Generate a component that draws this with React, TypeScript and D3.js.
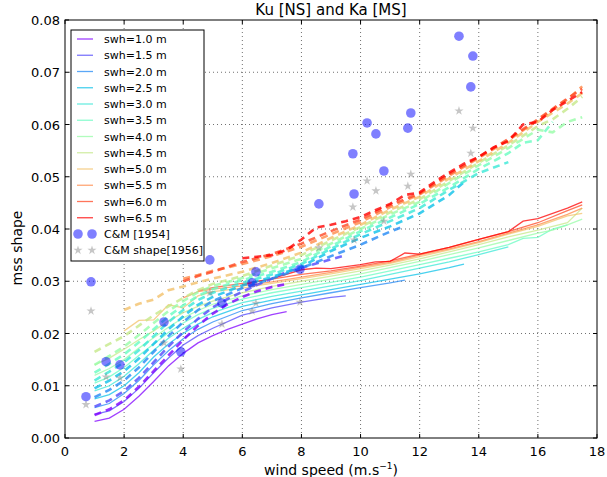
import React from 'react';
import * as d3 from 'd3';

// swh levels (m)
const swhLevels = [1.0, 1.5, 2.0, 2.5, 3.0, 3.5, 4.0, 4.5, 5.0, 5.5, 6.0, 6.5];

// solid curves: [wind, mss]
const s10 = [[1,.0032],[1.5,.0038],[2,.0055],[2.5,.0080],[3,.0108],[3.5,.0138],[4,.0162],[4.5,.0182],[5,.0196],[5.5,.0208],[6,.0218],[6.5,.0228],[7,.0236],[7.5,.0242]];
const s15 = [[1,.0045],[1.5,.0052],[2,.0070],[2.5,.0095],[3,.0125],[3.5,.0153],[4,.0178],[4.5,.0196],[5,.0210],[6,.0235],[7,.0249],[8,.0260],[9,.0269],[9.5,.0272]];
const s20 = [[1,.0058],[1.5,.0066],[2,.0085],[2.5,.0110],[3,.0140],[3.5,.0167],[4,.0190],[4.5,.0208],[5,.0222],[6,.0244],[7,.0257],[8,.0268],[9,.0278],[10,.0288],[11,.0297],[11.5,.0302]];
const s25 = [[1,.0075],[1.5,.0083],[2,.0100],[2.5,.0125],[3,.0155],[3.5,.0180],[4,.0200],[4.5,.0218],[5,.0232],[6,.0252],[7,.0264],[8,.0274],[9,.0284],[10,.0294],[11,.0304],[12,.0314],[13,.0326],[13.5,.0333]];
const s30 = [[1,.0090],[1.5,.0100],[2,.0118],[2.5,.0142],[3,.0168],[3.5,.0191],[4,.0210],[4.5,.0227],[5,.0240],[6,.0259],[7,.0271],[8,.0281],[9,.0291],[10,.0301],[11,.0313],[12,.0325],[13,.0337],[14,.0351],[15,.0366]];
const s35 = [[1,.0105],[1.5,.0117],[2,.0135],[2.5,.0158],[3,.0180],[3.5,.0202],[4,.0220],[4.5,.0236],[5,.0248],[6,.0266],[7,.0278],[8,.0288],[9,.0298],[10,.0308],[11,.0320],[12,.0332],[13,.0344],[14,.0356],[15,.0370],[15.5,.0382],[16,.0384],[16.5,.0400],[17,.0408]];
const s40 = [[1,.0120],[1.5,.0133],[2,.0150],[2.5,.0172],[3,.0192],[3.5,.0212],[4,.0230],[4.5,.0244],[5,.0256],[6,.0272],[7,.0284],[8,.0294],[9,.0304],[10,.0314],[11,.0326],[12,.0338],[13,.0351],[14,.0364],[15,.0378],[16,.0392],[16.5,.0398],[17,.0408],[17.5,.0419]];
const s45 = [[1,.0140],[1.5,.0153],[2,.0170],[2.5,.0188],[3,.0205],[3.5,.0224],[4,.0240],[4.5,.0252],[5,.0262],[6,.0278],[7,.0290],[8,.0300],[9,.0310],[10,.0320],[11,.0331],[12,.0343],[13,.0356],[14,.0370],[15,.0385],[16,.0398],[17,.0412],[17.5,.0440]];
const s50 = [[2,.0205],[2.5,.0225],[3,.0226],[3.5,.0255],[4,.0249],[4.5,.0272],[5,.0280],[6,.0287],[7,.0296],[8,.0305],[9,.0314],[10,.0324],[11,.0334],[12,.0347],[13,.0360],[14,.0374],[15,.0390],[16,.0405],[17,.0425],[17.5,.0430]];
const s55 = [[4,.0268],[4.5,.0280],[5,.0285],[6,.0291],[7,.0299],[8,.0308],[9,.0317],[10,.0327],[11,.0336],[12,.0350],[13,.0362],[14,.0376],[15,.0392],[16,.0408],[17,.0428],[17.5,.0440]];
const s60 = [[4.5,.0282],[5,.0288],[6,.0296],[7,.0304],[8,.0313],[9,.0320],[10,.0329],[11,.0339],[12,.0352],[13,.0365],[14,.0380],[15,.0395],[16,.0412],[17,.0435],[17.5,.0446]];
const s65 = [[6,.0293],[7,.0305],[8,.0322],[8.5,.0325],[9,.0324],[10,.0332],[10.5,.0337],[11,.0338],[11.5,.0354],[12,.0352],[13,.0365],[14,.0380],[15,.0395],[15.5,.0415],[16,.0420],[17,.0440],[17.5,.0452]];

// dashed curves: [wind, mss]
const d10 = [[1,.0044],[1.5,.0055],[2,.0072],[2.5,.0098],[3,.0128],[3.5,.0158],[4,.0188],[4.5,.0215],[5,.0238],[5.5,.0256],[6,.0270],[6.5,.0281],[7,.0289],[7.5,.0295]];
const d15 = [[1,.0060],[1.5,.0072],[2,.0090],[2.5,.0115],[3,.0145],[3.5,.0175],[4,.0203],[4.5,.0228],[5,.0250],[5.5,.0266],[6,.0280],[6.5,.0293],[7,.0305],[7.5,.0318],[8,.0326],[8.5,.0334],[9,.0342],[9.5,.0350]];
const d20 = [[1,.0078],[1.5,.0092],[2,.0110],[2.5,.0135],[3,.0165],[3.5,.0195],[4,.0222],[4.5,.0245],[5,.0262],[6,.0287],[7,.0305],[8,.0325],[9,.0348],[10,.0370],[11,.0395],[11.5,.0406]];
const d25 = [[1,.0095],[1.5,.0110],[2,.0128],[2.5,.0152],[3,.0180],[3.5,.0208],[4,.0233],[4.5,.0255],[5,.0270],[6,.0292],[7,.0308],[8,.0328],[9,.0358],[10,.0383],[11,.0405],[12,.0430],[13,.0465],[13.5,.0490]];
const d30 = [[1,.0110],[1.5,.0127],[2,.0145],[2.5,.0168],[3,.0195],[3.5,.0222],[4,.0245],[4.5,.0264],[5,.0278],[6,.0297],[7,.0313],[8,.0333],[9,.0362],[10,.0390],[11,.0415],[12,.0440],[13,.0475],[14,.0507],[15,.0528]];
const d35 = [[1,.0125],[1.5,.0142],[2,.0160],[2.5,.0183],[3,.0208],[3.5,.0233],[4,.0254],[4.5,.0272],[5,.0285],[6,.0302],[7,.0318],[8,.0337],[9,.0367],[10,.0396],[11,.0422],[12,.0448],[13,.0480],[14,.0515],[15,.0545],[15.5,.0565],[16,.0570],[16.5,.0605]];
const d40 = [[1,.0140],[1.5,.0157],[2,.0175],[2.5,.0197],[3,.0220],[3.5,.0243],[4,.0262],[4.5,.0279],[5,.0291],[6,.0306],[7,.0325],[8,.0343],[9,.0372],[10,.0400],[11,.0428],[12,.0452],[13,.0488],[14,.0522],[15,.0555],[16,.0590],[16.5,.0585],[17,.0605],[17.5,.0614]];
const d45 = [[1,.0165],[1.5,.0180],[2,.0195],[2.5,.0215],[3,.0235],[3.5,.0252],[4,.0268],[4.5,.0283],[5,.0295],[6,.0310],[7,.0330],[8,.0350],[9,.0378],[10,.0404],[11,.0432],[12,.0457],[13,.0492],[14,.0527],[15,.0560],[16,.0597],[16.5,.0610],[17,.0630],[17.5,.0653]];
const d50 = [[2,.0245],[2.5,.0257],[3,.0265],[3.5,.0283],[4,.0290],[4.5,.0298],[5,.0305],[6,.0318],[7,.0335],[8,.0355],[9,.0383],[10,.0408],[11,.0437],[12,.0462],[13,.0497],[14,.0530],[15,.0565],[16,.0605],[17,.0640],[17.5,.0660]];
const d55 = [[4,.0305],[4.5,.0312],[5,.0320],[6,.0333],[7,.0348],[8,.0366],[9,.0390],[10,.0413],[11,.0442],[12,.0466],[13,.0502],[14,.0536],[15,.0570],[16,.0608],[17,.0648],[17.5,.0673]];
const d60 = [[4,.0300],[4.5,.0310],[5,.0318],[6,.0337],[7,.0352],[8,.0372],[9,.0396],[10,.0418],[11,.0446],[12,.0468],[13,.0505],[14,.0538],[15,.0572],[16,.0610],[17,.0650],[17.5,.0668]];
const d65 = [[6,.0344],[6.5,.0347],[7,.0350],[7.5,.0360],[8,.0380],[8.5,.0403],[9,.0408],[9.5,.0415],[10,.0423],[10.5,.0436],[11,.0448],[11.5,.0465],[12,.0470],[12.5,.0490],[13,.0508],[13.5,.0525],[14,.0538],[14.5,.0556],[15,.0568],[15.5,.0600],[16,.0605],[16.5,.0628],[17,.0645],[17.5,.0662]];

const solidCurves = [s10, s15, s20, s25, s30, s35, s40, s45, s50, s55, s60, s65];
const dashedCurves = [d10, d15, d20, d25, d30, d35, d40, d45, d50, d55, d60, d65];

// Cox & Munk observations
const cmWind = [0.71, 0.88, 1.39, 1.86, 3.35, 3.92, 4.9, 5.31, 6.33, 6.46, 7.95, 8.59, 9.74, 9.78, 10.22, 10.52, 10.79, 11.6, 11.7, 13.33, 13.8, 13.73];
const cm1954 = [.0079, .0299, .0146, .0140, .0222, .0165, .0341, .0258, .0297, .0318, .0323, .0448, .0544, .0467, .0603, .0582, .0511, .0593, .0622, .0769, .0731, .0672];
const cm1956 = [.0064, .0243, .0117, .0115, .0182, .0132, .0278, .0218, .0243, .0258, .0260, .0364, .0442, .0379, .0492, .0473, .0415, .0482, .0505, .0626, .0593, .0545];

const xTicks = [0, 2, 4, 6, 8, 10, 12, 14, 16, 18];
const yTicks = [0, 0.01, 0.02, 0.03, 0.04, 0.05, 0.06, 0.07, 0.08];

// matplotlib "rainbow"
const rainbow = (t: number) => {
  const r = Math.min(1, Math.abs(2 * t - 0.5));
  const g = Math.sin(Math.PI * t);
  const b = Math.cos(Math.PI * t / 2);
  return d3.rgb(r * 255, g * 255, b * 255).formatHex();
};

const W = 607, H = 477;
const left = 65, right = 597, top = 20, bottom = 438;
const font = 'DejaVu Sans, sans-serif';

export default function App() {
  const x = d3.scaleLinear().domain([0, 18]).range([left, right]);
  const y = d3.scaleLinear().domain([0, 0.08]).range([bottom, top]);
  const line = d3.line<number[]>().x(d => x(d[0])).y(d => y(d[1]));
  const colors = swhLevels.map((_, i) => rainbow(i / (swhLevels.length - 1)));
  const star = d3.symbol().type(d3.symbolStar).size(26)();
  const legendY0 = 39, legendStep = 16.25;

  return (
    <svg width={W} height={H} style={{ position: 'absolute', left: 0, top: 0, background: '#fff' }} fontFamily={font}>
      <rect width={W} height={H} fill="#fff" />
      <defs>
        <clipPath id="plot"><rect x={left} y={top} width={right - left} height={bottom - top} /></clipPath>
      </defs>

      {/* grid */}
      <g stroke="#000" strokeWidth={0.8} strokeDasharray="1,3" opacity={0.7}>
        {xTicks.slice(1, -1).map(t => <line key={'gx' + t} x1={x(t)} x2={x(t)} y1={top} y2={bottom} />)}
        {yTicks.slice(1, -1).map(t => <line key={'gy' + t} x1={left} x2={right} y1={y(t)} y2={y(t)} />)}
      </g>

      <g clipPath="url(#plot)">
        {solidCurves.map((c, i) => (
          <path key={'s' + i} d={line(c) || ''} fill="none" stroke={colors[i]} strokeWidth={1.3} opacity={0.75} />
        ))}
        {dashedCurves.map((c, i) => (
          <path key={'d' + i} d={line(c) || ''} fill="none" stroke={colors[i]} strokeWidth={2.6} strokeDasharray="7,5" opacity={0.8} />
        ))}
        {cmWind.map((w, i) => (
          <circle key={'c' + i} cx={x(w)} cy={y(cm1954[i])} r={4.8} fill="#0000ff" opacity={0.5} />
        ))}
        {cmWind.map((w, i) => (
          <path key={'st' + i} d={star || ''} transform={`translate(${x(w)},${y(cm1956[i])})`} fill="#808080" opacity={0.45} />
        ))}
      </g>

      {/* frame and ticks */}
      <rect x={left} y={top} width={right - left} height={bottom - top} fill="none" stroke="#000" strokeWidth={1} />
      <g stroke="#000" strokeWidth={1}>
        {xTicks.map(t => (
          <g key={'tx' + t}>
            <line x1={x(t)} x2={x(t)} y1={bottom} y2={bottom - 4} />
            <line x1={x(t)} x2={x(t)} y1={top} y2={top + 4} />
          </g>
        ))}
        {yTicks.map(t => (
          <g key={'ty' + t}>
            <line x1={left} x2={left + 4} y1={y(t)} y2={y(t)} />
            <line x1={right} x2={right - 4} y1={y(t)} y2={y(t)} />
          </g>
        ))}
      </g>
      <g fontSize={13} fill="#000">
        {xTicks.map(t => (
          <text key={'lx' + t} x={x(t)} y={bottom + 18} textAnchor="middle">{t}</text>
        ))}
        {yTicks.map(t => (
          <text key={'ly' + t} x={left - 5} y={y(t) + 5} textAnchor="end">{t.toFixed(2)}</text>
        ))}
      </g>

      <text x={(left + right) / 2} y={15} textAnchor="middle" fontSize={15}>Ku [NS] and Ka [MS]</text>
      <text x={(left + right) / 2} y={475} textAnchor="middle" fontSize={14}>
        wind speed (m.s<tspan fontSize={9} dy={-6}>−1</tspan><tspan dy={6}>)</tspan>
      </text>
      <text transform={`translate(22,248) rotate(-90)`} textAnchor="middle" fontSize={14}>mss shape</text>

      {/* legend */}
      <rect x={71} y={30} width={133} height={231} fill="#fff" stroke="#000" strokeWidth={1} />
      <g fontSize={11}>
        {swhLevels.map((s, i) => (
          <g key={'lg' + i} transform={`translate(0,${legendY0 + i * legendStep})`}>
            <line x1={77} x2={93} y1={0} y2={0} stroke={colors[i]} strokeWidth={1.3} opacity={0.75} />
            <text x={104} y={4}>{`swh=${s.toFixed(1)} m`}</text>
          </g>
        ))}
        <g transform={`translate(0,${legendY0 + 12 * legendStep})`}>
          <circle cx={78} cy={0} r={4.8} fill="#0000ff" opacity={0.5} />
          <circle cx={92} cy={0} r={4.8} fill="#0000ff" opacity={0.5} />
          <text x={104} y={4}>C&amp;M [1954]</text>
        </g>
        <g transform={`translate(0,${legendY0 + 13 * legendStep})`}>
          <path d={star || ''} transform="translate(78,0)" fill="#808080" opacity={0.45} />
          <path d={star || ''} transform="translate(92,0)" fill="#808080" opacity={0.45} />
          <text x={104} y={4}>C&amp;M shape[1956]</text>
        </g>
      </g>
    </svg>
  );
}
